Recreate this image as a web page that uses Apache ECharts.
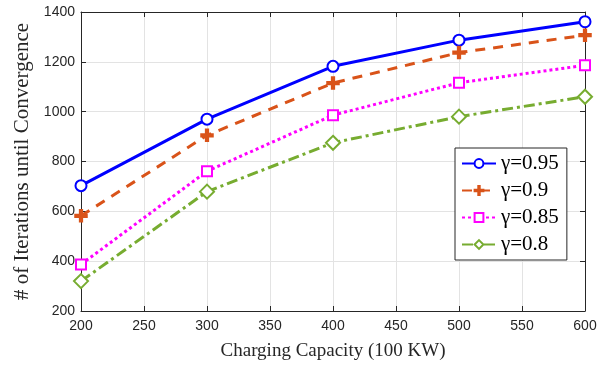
<!DOCTYPE html>
<html>
<head>
<meta charset="utf-8">
<script src="https://cdn.jsdelivr.net/npm/echarts@6/dist/echarts.min.js"></script>
<style>
  html, body { margin: 0; padding: 0; background: #fff; }
  #chart { width: 611px; height: 366px; }
</style>
</head>
<body>
<div id="chart"></div>
<script>
  // capacity (100 KW)
  var capacity = [200, 300, 400, 500, 600];
  var names = ['γ=0.95', 'γ=0.9', 'γ=0.85', 'γ=0.8'];
  var g095 = [703, 970, 1182, 1287, 1361];
  var g090 = [582, 905, 1115, 1237, 1307];
  var g085 = [387, 761, 986, 1116, 1186];
  var g080 = [320, 679, 875, 980, 1060];

  var axisColor = '#262626';
  var plusPath = 'path://M4.2,0H5.8V4.2H10V5.8H5.8V10H4.2V5.8H0V4.2H4.2Z';

  function pairs(ys) {
    return capacity.map(function (x, i) { return [x, ys[i]]; });
  }

  function mkSeries(name, ys, color, type, symbol, size) {
    return {
      name: name,
      type: 'line',
      data: pairs(ys),
      symbol: symbol,
      symbolSize: size,
      showAllSymbol: true,
      lineStyle: { color: color, width: 3, type: type },
      itemStyle: { color: color, borderColor: color, borderWidth: 2.5 }
    };
  }

  var myChart = echarts.init(document.getElementById('chart'));
  var option = {
    animation: false,
    backgroundColor: '#fff',
    grid: { left: 81, right: 26, top: 12, bottom: 55 },
    legend: {
      left: 455,
      top: 148,
      orient: 'vertical',
      backgroundColor: '#fff',
      borderColor: axisColor,
      borderWidth: 1,
      borderRadius: 0,
      padding: [5, 8, 5, 6],
      itemGap: 6,
      itemWidth: 34,
      itemHeight: 11,
      textStyle: { fontFamily: 'Liberation Serif', fontSize: 21, color: '#000' },
      data: names
    },
    xAxis: [{
      type: 'value',
      min: 200, max: 600, interval: 50,
      name: 'Charging Capacity (100 KW)',
      nameLocation: 'middle',
      nameGap: 31,
      nameTextStyle: { fontFamily: 'Liberation Serif', fontSize: 19, color: axisColor },
      axisLine: { lineStyle: { color: axisColor, width: 1 } },
      axisTick: { inside: true, length: 5, lineStyle: { color: axisColor } },
      axisLabel: { fontFamily: 'Liberation Sans', fontSize: 14, color: axisColor, margin: 8 },
      splitLine: { show: true, lineStyle: { color: '#e3e3e3' } }
    }, {
      type: 'value', position: 'top',
      min: 200, max: 600, interval: 50,
      axisLine: { lineStyle: { color: axisColor, width: 1 } },
      axisTick: { inside: true, length: 5, lineStyle: { color: axisColor } },
      axisLabel: { show: false },
      splitLine: { show: false }
    }],
    yAxis: [{
      type: 'value',
      min: 200, max: 1400, interval: 200,
      name: '# of Iterations until Convergence',
      nameLocation: 'middle',
      nameGap: 48,
      nameTextStyle: { fontFamily: 'Liberation Serif', fontSize: 21, color: axisColor },
      axisLine: { show: true, lineStyle: { color: axisColor, width: 1 } },
      axisTick: { show: true, inside: true, length: 5, lineStyle: { color: axisColor } },
      axisLabel: {
        fontFamily: 'Liberation Sans', fontSize: 14, color: axisColor, margin: 6,
        formatter: function (v) { return String(v); }
      },
      splitLine: { show: true, lineStyle: { color: '#e3e3e3' } }
    }, {
      type: 'value', position: 'right',
      min: 200, max: 1400, interval: 200,
      axisLine: { show: true, lineStyle: { color: axisColor, width: 1 } },
      axisTick: { show: true, inside: true, length: 5, lineStyle: { color: axisColor } },
      axisLabel: { show: false },
      splitLine: { show: false }
    }],
    series: [
      mkSeries(names[0], g095, '#0000ff', 'solid', 'emptyCircle', 11),
      mkSeries(names[1], g090, '#d95319', [10, 8], plusPath, 11),
      mkSeries(names[2], g085, '#ff00ff', [3, 3], 'emptyRect', 10),
      mkSeries(names[3], g080, '#77ac30', [11, 4, 3, 4], 'emptyDiamond', 14)
    ]
  };
  myChart.setOption(option, true);
</script>
</body>
</html>
